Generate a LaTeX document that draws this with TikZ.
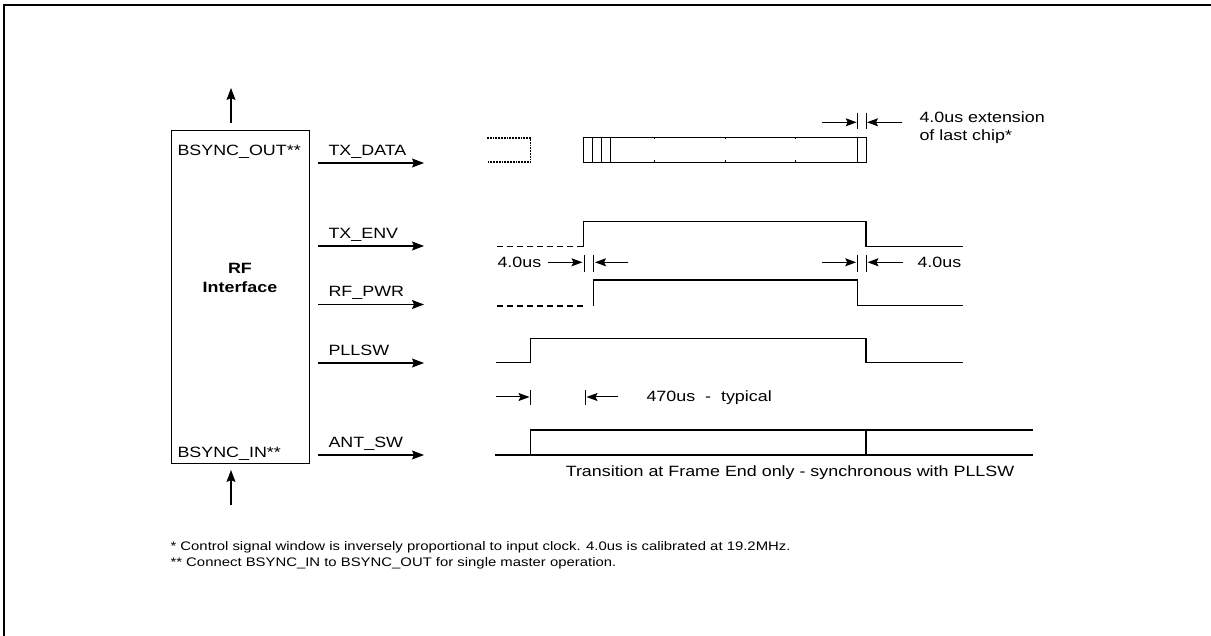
\documentclass[tikz,border=0pt]{standalone}
\usepackage{fontspec}
\setmainfont{Liberation Sans}[FakeStretch=1.2]
\usetikzlibrary{arrows.meta}
\begin{document}
\begin{tikzpicture}[x=1pt,y=-1pt,
  line width=1.1pt,
  lbl/.style={anchor=base west, inner sep=0pt, font=\fontsize{14.9}{17}\selectfont},
  clbl/.style={anchor=base, inner sep=0pt, font=\fontsize{14.9}{17}\selectfont},
  note/.style={anchor=base west, inner sep=0pt, font=\fontsize{12.4}{14}\selectfont},
  arr/.style={-{Stealth[length=12pt,width=9pt,inset=2pt]}},
  dimarr/.style={line width=1pt,-{Stealth[length=11pt,width=8pt,inset=2pt]}},
  thin/.style={line width=0.9pt},
  dashlow/.style={dash pattern=on 6pt off 4pt},
  dotbox/.style={line width=1.9pt, dash pattern=on 1.8pt off 1pt},
  ]
\useasboundingbox (0,0) rectangle (1211,636);
% frame
\draw[line width=2.6pt] (1211,5) -- (4,5) -- (4,636);

% RF block
\node[draw, line width=1pt, minimum width=138pt, minimum height=333pt, inner sep=0pt, anchor=north west] (rf) at (171,130) {};
\node[clbl, font=\fontsize{14.9}{17}\selectfont\bfseries] (rft) at (240,273.3) {RF};
\node[clbl, font=\fontsize{14.9}{17}\selectfont\bfseries] (ift) at (240,292.7) {Interface};
\node[lbl] (bso) at (177,156) {BSYNC\_OUT**};
\node[lbl] (bsi) at (177,457) {BSYNC\_IN**};

% sync arrows
\coordinate (outS) at (231,123);
\coordinate (outE) at (231,88);
\draw[arr] (outS) -- (outE);
\coordinate (inS) at (231,505);
\coordinate (inE) at (231,470);
\draw[arr] (inS) -- (inE);

% signal arrows and labels
\foreach \nm/\lab/\yy in {txd/TX\_DATA/163, txe/TX\_ENV/246, rfp/RF\_PWR/304.5, pll/PLLSW/363, ant/ANT\_SW/455}{
  \coordinate (\nm S) at (318,\yy);
  \coordinate (\nm E) at (424,\yy);
  \draw[arr] (\nm S) -- (\nm E);
  \node[lbl] (\nm L) at (328,\yy-7.5) {\lab};
}

% TX_DATA waveform
\draw[dotbox] (487,137.7) -- (530.5,137.7) -- (530.5,162.3) -- (487,162.3);
\draw[thin] (583.3,137.7) rectangle (866,162.3);
\foreach \xx in {592.3,601,610,857.7}{\draw[thin] (\xx,137.7) -- (\xx,162.3);}
\foreach \xx in {654.3,725.3,795}{
  \draw[line width=0.5pt] (\xx,137.7) -- (\xx,139.5);
  \draw[line width=0.5pt] (\xx,160.5) -- (\xx,162.3);
}
\draw[thin] (857.7,112.7) -- (857.7,129.3);
\draw[thin] (866,112.7) -- (866,129.3);
\coordinate (e1S) at (822,122.3); \coordinate (e1E) at (856.7,122.3);
\coordinate (e2S) at (902,122.3); \coordinate (e2E) at (867,122.3);
\draw[dimarr] (e1S) -- (e1E);
\draw[dimarr] (e2S) -- (e2E);
\node[lbl] (ext1) at (919,123) {4.0us extension};
\node[lbl] (ext2) at (919,141) {of last chip*};

% TX_ENV waveform
\draw[dashlow] (497,246.7) -- (583.8,246.7);
\draw (583.8,246.7) -- (583.8,221.7) -- (866,221.7) -- (866,246.7) -- (963.3,246.7);

% 4.0us dimension row
\node[lbl] (d1) at (497,267.5) {4.0us};
\draw[thin] (584.3,255) -- (584.3,271.7);
\draw[thin] (593.3,255) -- (593.3,271.7);
\coordinate (a1S) at (548,262.3); \coordinate (a1E) at (582.5,262.3);
\coordinate (a2S) at (628.3,262.3); \coordinate (a2E) at (595,262.3);
\draw[dimarr] (a1S) -- (a1E);
\draw[dimarr] (a2S) -- (a2E);
\draw[thin] (857.7,255) -- (857.7,271.7);
\draw[thin] (866,255) -- (866,271.7);
\coordinate (a3S) at (822,262.3); \coordinate (a3E) at (856.2,262.3);
\coordinate (a4S) at (903,262.3); \coordinate (a4E) at (867.5,262.3);
\draw[dimarr] (a3S) -- (a3E);
\draw[dimarr] (a4S) -- (a4E);
\node[lbl] (d2) at (917,267.5) {4.0us};

% RF_PWR waveform
\draw[dashlow] (497,306) -- (583.3,306);
\draw (593.3,306) -- (593.3,280) -- (857.7,280) -- (857.7,305.5) -- (963.3,305.5);

% PLLSW waveform
\draw (495.7,362.7) -- (530.7,362.7) -- (530.7,338.3) -- (866,338.3) -- (866,362.7) -- (963.3,362.7);

% 470us row
\draw[thin] (530.7,390) -- (530.7,405);
\draw[thin] (585,390) -- (585,405);
\coordinate (b1S) at (495.7,397); \coordinate (b1E) at (529.5,397);
\coordinate (b2S) at (618.3,397); \coordinate (b2E) at (586.5,397);
\draw[dimarr] (b1S) -- (b1E);
\draw[dimarr] (b2S) -- (b2E);
\node[lbl] (typ) at (646,402) {470us\ \ -\ \ typical};

% ANT_SW waveform
\draw (495,455) -- (1033,455);
\draw (530.5,455) -- (530.5,430) -- (1033,430);
\draw (866,430) -- (866,455);
\node[clbl] (cap) at (790,476) {Transition at Frame End only - synchronous with PLLSW};

% notes
\node[note] (n1) at (170,550) {* Control signal window is inversely proportional to input clock. 4.0us is calibrated at 19.2MHz.};
\node[note] (n2) at (170,566) {** Connect BSYNC\_IN to BSYNC\_OUT for single master operation.};
\end{tikzpicture}
\end{document}
